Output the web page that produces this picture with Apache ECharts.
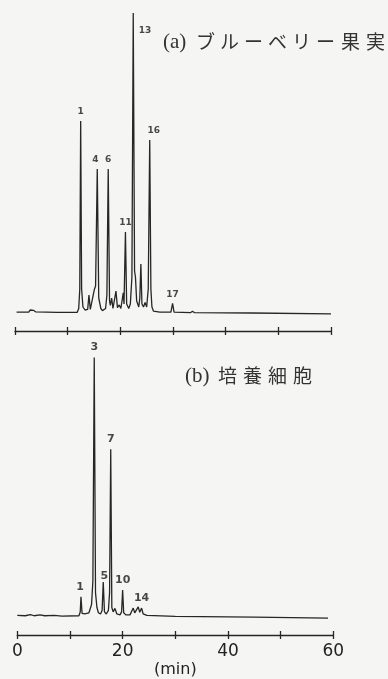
<!DOCTYPE html>
<html><head><meta charset="utf-8">
<script src="https://cdn.jsdelivr.net/npm/echarts@6/dist/echarts.min.js"></script>
<style>html,body{margin:0;padding:0;background:#f5f5f3}#c{width:388px;height:679px}</style>
</head><body><div id="c"></div>
<script>
// ---- data (time in min, relative detector response) ----
const tickValues = [0, 10, 20, 30, 40, 50, 60];
const tickLabels = ['0', '20', '40', '60'];
const axisName = '(min)';
const titleA = ['(a)', 'ブ', 'ル', 'ー', 'ベ', 'リ', 'ー', '果', '実'];
const titleB = ['(b)', '培', '養', '細', '胞'];

const traceA = [
  [0.3,0.3],[2.6,0.3],[2.9,1.0],[3.2,1.3],[3.5,0.9],[3.9,0.4],[8.0,0.2],[11.8,0.2],
  [12.1,1.5],[12.3,8],[12.47,64],[12.65,8],[12.9,2],[13.3,1],[13.8,1.2],[14.04,6],
  [14.3,1.2],[14.6,1.5],[15.05,7.7],[15.3,9],[15.62,48],[15.9,5],[16.3,1.5],[16.6,0.8],
  [17.2,1.5],[17.45,6],[17.70,48],[17.95,4],[18.1,2.5],[18.35,5],[18.6,1.5],[18.9,1.5],
  [19.17,7.3],[19.45,1.8],[19.79,2.7],[20.1,1.5],[20.3,2],[20.55,6.7],[20.7,3],[20.97,27],
  [21.2,3],[21.6,1.5],[21.9,3],[22.2,12],[22.45,100],[22.7,14],[22.87,12],[23.1,4],
  [23.5,2],[23.7,5],[23.9,16.3],[24.1,3],[24.4,2],[24.7,3.5],[25.0,2],[25.3,8],
  [25.58,57.7],[25.8,8],[26.0,2],[26.3,0.6],[27.5,0.3],[29.6,0.3],[29.92,3.2],[30.2,0.3],
  [33.3,0.1],[33.7,0.6],[34.1,0.1],[45,0],[60,-0.3]
];
const traceB = [
  [0,0.3],[1.5,0.2],[2.5,0.6],[3.2,0.2],[4.3,0.5],[5.2,0.2],[7.0,0.3],[8.5,0.1],
  [11.7,0.2],[11.95,1.5],[12.09,6.6],[12.3,1],[12.8,0.8],[13.6,1.2],[14.1,4],[14.35,12],
  [14.61,87.8],[14.85,8],[15.12,3],[15.4,1.2],[15.8,0.8],[16.1,2],[16.32,11.6],[16.55,1.5],
  [16.9,0.8],[17.3,2],[17.52,8],[17.74,56.7],[17.95,3],[18.2,1.5],[18.54,2.7],[18.9,0.8],
  [19.5,0.5],[19.8,1.5],[20.0,8.9],[20.2,1.2],[20.6,0.5],[21.4,0.5],[22.01,2.8],[22.3,1.2],
  [22.5,1],[22.96,3.2],[23.25,1.4],[23.6,2.8],[23.9,0.8],[24.6,0.3],[30,0],[45,-0.3],[59,-0.6]
];
const peaksA = [[12.47,64,'1'],[15.62,48,'4'],[17.70,48,'6'],[20.97,27,'11'],[22.45,100,'13'],[25.58,57.7,'16'],[29.92,3.2,'17']];
const peaksB = [[12.09,6.6,'1'],[14.61,87.8,'3'],[16.32,11.6,'5'],[17.74,56.7,'7'],[20.0,8.9,'10'],[23.6,2.8,'14']];

// ---- styling ----
const INK = '#262626';
const labelOffsets = {
  A: {'4':[-2,0], '13':[0,18], '16':[4,0]},
  B: {'5':[1,4], '1':[-1,0]}
};
function peakSeries(peaks, idx, key, size) {
  return {
    type: 'scatter', xAxisIndex: idx*2, yAxisIndex: idx, symbolSize: 1,
    itemStyle: {color: 'rgba(0,0,0,0)'}, silent: true, clip: false,
    data: peaks.map(p => {
      const off = labelOffsets[key][p[2]] || [0,0];
      const isRight = key === 'A' && p[2] === '13';
      return {value: [p[0], p[1]], label: {show: true, formatter: p[2], position: isRight ? 'right' : 'top',
        distance: isRight ? 5 : 4, offset: off, color: '#1a1a1a', fontSize: size, fontWeight: 'bold', fontFamily: 'DejaVu Sans'}};
    })
  };
}
function xAxes(grid, withLabels) {
  const base = {type: 'value', gridIndex: grid, min: 0, max: 60, interval: 10, position: 'bottom',
    splitLine: {show: false}};
  const a1 = Object.assign({}, base, {
    axisLine: {show: true, onZero: false, lineStyle: {color: INK, width: 1.3}},
    axisTick: {show: true, inside: false, length: 4, lineStyle: {color: INK, width: 1.3}},
    axisLabel: withLabels ? {show: true, margin: 8, color: '#222', fontSize: 17, fontFamily: 'DejaVu Sans',
      formatter: v => tickLabels.indexOf(String(v)) >= 0 ? String(v) : ''} : {show: false}
  });
  if (withLabels) {
    Object.assign(a1, {name: axisName, nameLocation: 'middle', nameGap: 27,
      nameTextStyle: {color: '#222', fontSize: 16, fontFamily: 'DejaVu Sans'}});
  }
  const a2 = Object.assign({}, base, {
    axisLine: {show: false, onZero: false},
    axisTick: {show: true, inside: true, length: 4, lineStyle: {color: INK, width: 1.3}},
    axisLabel: {show: false}
  });
  return [a1, a2];
}
function titleGraphic(chars, xs, y, size) {
  return chars.map((c, i) => {
    const fs = i === 0 ? size + 2 : size;
    return {
      type: 'text', left: xs[i], top: y - fs/2 - 1, silent: true,
      style: {text: c, fill: '#333', font: fs + 'px ' + (i === 0 ? '"Liberation Serif", serif' : '"Noto Sans CJK JP", sans-serif')}
    };
  });
}

const chart = echarts.init(document.getElementById('c'), null, {renderer: 'canvas'});
chart.setOption({
  animation: false,
  backgroundColor: '#f5f5f3',
  grid: [
    {left: 15, width: 316, top: 13, height: 318},
    {left: 17.3, width: 316, top: 321.5, height: 319.2}
  ],
  xAxis: [...xAxes(0, false), ...xAxes(1, true)],
  yAxis: [
    {type: 'value', gridIndex: 0, min: -6, max: 100, show: false},
    {type: 'value', gridIndex: 1, min: -6.33, max: 100, show: false}
  ],
  series: [
    {type: 'line', xAxisIndex: 0, yAxisIndex: 0, data: traceA, showSymbol: false, clip: false,
      lineStyle: {color: INK, width: 1.3}, silent: true},
    {type: 'line', xAxisIndex: 2, yAxisIndex: 1, data: traceB, showSymbol: false, clip: false,
      lineStyle: {color: INK, width: 1.3}, silent: true},
    peakSeries(peaksA, 0, 'A', 9),
    peakSeries(peaksB, 1, 'B', 11)
  ],
  graphic: [
    ...titleGraphic(titleA, [163, 196, 220, 244, 268, 292, 316, 341, 366], 43, 19),
    ...titleGraphic(titleB, [185, 218, 243, 268, 293], 377, 19)
  ]
});
</script></body></html>
